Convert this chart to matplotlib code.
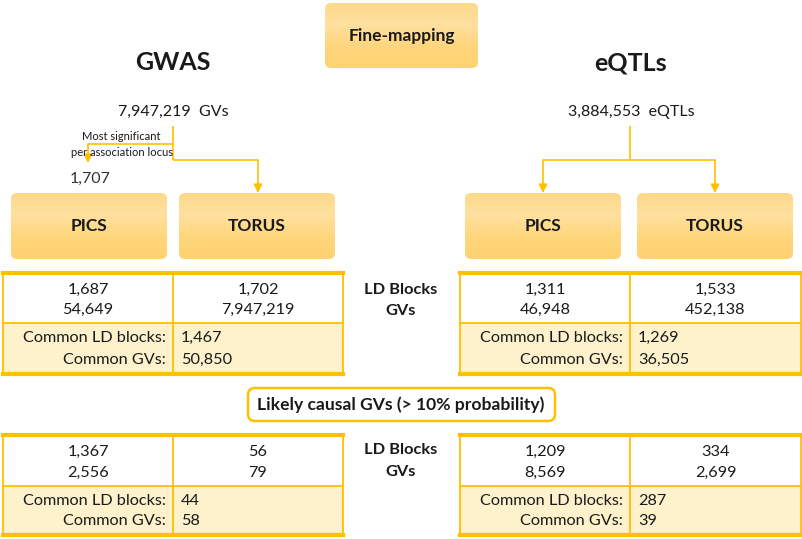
import numpy as np
import matplotlib
matplotlib.use('Agg')
import matplotlib.pyplot as plt
from matplotlib.patches import FancyBboxPatch, Rectangle
from matplotlib.colors import LinearSegmentedColormap

plt.rcParams['font.family'] = ['Lato', 'DejaVu Sans']

# ---- data ----
totals = ['7,947,219  GVs', '3,884,553  eQTLs']
gwas_pics_input = '1,707'
methods = ['PICS', 'TORUS']
row_labels = ['Common LD blocks:', 'Common GVs:']

# fine-mapping results (LD blocks, GVs) per method
gwas_all = [['1,687', '54,649'], ['1,702', '7,947,219']]
gwas_all_common = ['1,467', '50,850']
eqtl_all = [['1,311', '46,948'], ['1,533', '452,138']]
eqtl_all_common = ['1,269', '36,505']

gwas_causal = [['1,367', '2,556'], ['56', '79']]
gwas_causal_common = ['44', '58']
eqtl_causal = [['1,209', '8,569'], ['334', '2,699']]
eqtl_causal_common = ['287', '39']

GOLD = '#FFC000'
CREAM = '#FEF2CC'
TXT = '#1a1a1a'
grad = LinearSegmentedColormap.from_list('g', ['#FDD98B', '#FFE09F', '#FFD67C', '#FED270'])

W, H = 803, 539
fig = plt.figure(figsize=(W / 100, H / 100), dpi=100)
ax = fig.add_axes([0, 0, 1, 1])
ax.set_xlim(0, W)
ax.set_ylim(H, 0)
ax.axis('off')


def grad_box(x0, y0, x1, y1, label, size):
    patch = FancyBboxPatch((x0, y0), x1 - x0, y1 - y0,
                           boxstyle='round,pad=0,rounding_size=6',
                           fc='none', ec='none')
    ax.add_patch(patch)
    img = ax.imshow(np.linspace(0, 1, 100).reshape(-1, 1), cmap=grad,
                    extent=(x0, x1, y1, y0), aspect='auto', zorder=1)
    img.set_clip_path(patch)
    ax.text((x0 + x1) / 2, (y0 + y1) / 2, label, ha='center', va='center',
            fontsize=size, fontweight='bold', color=TXT, zorder=3)


def arrow_down(x, y0, y1):
    ax.annotate('', xy=(x, y1), xytext=(x, y0),
                arrowprops=dict(arrowstyle='-|>,head_length=0.5,head_width=0.25',
                                color=GOLD, lw=1.2, shrinkA=0, shrinkB=0))


def line(xs, ys):
    ax.plot(xs, ys, color=GOLD, lw=1.2, solid_capstyle='butt')


def table(x0, x1, xm, y0, ym, y1, vals, common):
    ax.add_patch(Rectangle((x0, ym), x1 - x0, y1 - ym, fc=CREAM, ec='none', zorder=1))
    lw_thin = 1.3
    ax.plot([x0, x0], [y0, y1], color=GOLD, lw=lw_thin, zorder=2)
    ax.plot([x1, x1], [y0, y1], color=GOLD, lw=lw_thin, zorder=2)
    ax.plot([xm, xm], [y0, y1], color=GOLD, lw=lw_thin, zorder=2)
    ax.plot([x0, x1], [ym, ym], color=GOLD, lw=lw_thin, zorder=2)
    ax.plot([x0, x1], [y0, y0], color=GOLD, lw=3, zorder=2)
    ax.plot([x0, x1], [y1, y1], color=GOLD, lw=3, zorder=2)
    r1 = y0 + (ym - y0) * 0.33
    r2 = y0 + (ym - y0) * 0.74
    for cx, (a, b) in zip([(x0 + xm) / 2, (xm + x1) / 2], vals):
        ax.text(cx, r1, a, ha='center', va='center', fontsize=11.7, color=TXT, zorder=3)
        ax.text(cx, r2, b, ha='center', va='center', fontsize=11.7, color=TXT, zorder=3)
    s1 = ym + (y1 - ym) * 0.30
    s2 = ym + (y1 - ym) * 0.72
    for yy, lab, v in zip([s1, s2], row_labels, common):
        ax.text(xm - 7, yy, lab, ha='right', va='center', fontsize=11.7, color=TXT, zorder=3)
        ax.text(xm + 8, yy, v, ha='left', va='center', fontsize=11.7, color=TXT, zorder=3)


# header
grad_box(325, 3, 478, 68, 'Fine-mapping', 12.5)
ax.text(173, 63, 'GWAS', ha='center', va='center', fontsize=18, fontweight='bold', color=TXT)
ax.text(631, 63, 'eQTLs', ha='center', va='center', fontsize=18, fontweight='bold', color=TXT)

ax.text(173, 112, totals[0], ha='center', va='center', fontsize=11.5, color=TXT)
ax.text(631, 112, totals[1], ha='center', va='center', fontsize=11.5, color=TXT)

# GWAS flow
line([173, 173], [126, 160])
line([173, 258], [160, 160])
arrow_down(258, 160, 193)
line([173, 88], [144, 144])
arrow_down(88, 144, 163)
ax.text(121, 137, 'Most significant', ha='center', va='center', fontsize=8, color=TXT)
ax.text(122, 152, 'per association locus', ha='center', va='center', fontsize=8, color=TXT,
        zorder=3)
ax.text(90, 179, gwas_pics_input, ha='center', va='center', fontsize=11.5, color='#333333')

# eQTL flow
line([630, 630], [126, 160])
line([543, 715], [160, 160])
arrow_down(543, 160, 193)
arrow_down(715, 160, 193)

# method boxes
grad_box(11, 193, 167, 259, methods[0], 12.5)
grad_box(179, 193, 335, 259, methods[1], 12.5)
grad_box(465, 193, 621, 259, methods[0], 12.5)
grad_box(637, 193, 793, 259, methods[1], 12.5)

# all fine-mapped tables
table(3, 343, 173, 273, 323, 374, gwas_all, gwas_all_common)
table(460, 801, 630, 273, 323, 374, eqtl_all, eqtl_all_common)
ax.text(401, 290, 'LD Blocks', ha='center', va='center', fontsize=11.8, fontweight='bold', color=TXT)
ax.text(401, 311, 'GVs', ha='center', va='center', fontsize=11.8, fontweight='bold', color=TXT)

# likely causal
ax.add_patch(FancyBboxPatch((248, 388), 307, 33, boxstyle='round,pad=0,rounding_size=7',
                            fc='white', ec=GOLD, lw=1.8))
ax.text(401, 405, 'Likely causal GVs (> 10% probability)', ha='center', va='center',
        fontsize=12.6, fontweight='bold', color=TXT)

table(3, 343, 173, 435, 486, 535, gwas_causal, gwas_causal_common)
table(460, 801, 630, 435, 486, 535, eqtl_causal, eqtl_causal_common)
ax.text(401, 450, 'LD Blocks', ha='center', va='center', fontsize=11.8, fontweight='bold', color=TXT)
ax.text(401, 472, 'GVs', ha='center', va='center', fontsize=11.8, fontweight='bold', color=TXT)

fig.savefig('out.png', dpi=100)
